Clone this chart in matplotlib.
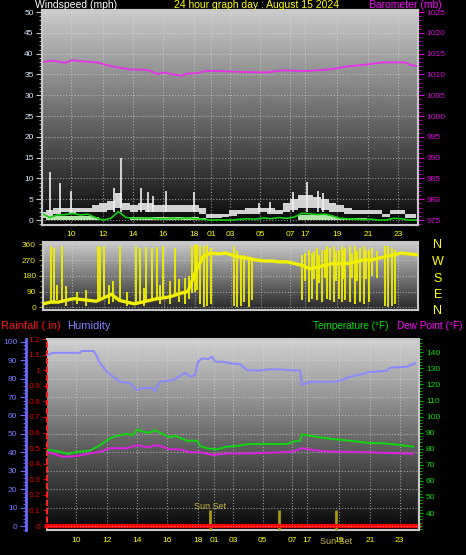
import matplotlib
matplotlib.use('Agg')
import matplotlib.pyplot as plt
import numpy as np
from matplotlib.ticker import MultipleLocator, FuncFormatter

plt.rcParams['font.family'] = ['Liberation Sans', 'DejaVu Sans']

# x axis: hours since start of the record (the graph skips some hours)
tick_pos = [1.9, 3.97, 5.98, 7.94, 9.97, 11.06, 12.3, 14.27, 16.23, 17.2, 19.28, 21.35, 23.32]
tick_labels = ['10', '12', '14', '16', '18', '01', '03', '05', '07', '17', '19', '21', '23']

# wind, half-hour steps
wind_hours = np.arange(50) * 0.5
gust_hi = [2, 2.5, 3, 3, 3, 3, 3, 3.5, 4, 4.5, 6.5, 4, 3.5, 4, 4, 3.5, 3.5, 3.5, 3.5, 3.5,
           3.5, 3, 1.5, 1.5, 1.5, 2.5, 2.5, 3, 3, 3, 3, 2.5, 4, 5, 6, 6, 5.5, 5, 4, 3.5,
           3, 2.5, 2.5, 2.5, 2.5, 1.5, 2.5, 2.5, 1.5, 1.5]
gust_lo = [0.5, 0.5, 1.5, 2, 1.5, 2, 2, 2, 2, 2.5, 3, 2.5, 2, 2.5, 2, 2, 2, 2, 2, 2,
           2, 1.5, 0.5, 0.5, 0.8, 1, 1.5, 1.5, 1.5, 2, 1.5, 1.5, 2, 2.5, 3, 3, 3, 2.5, 2, 2,
           1.5, 1.5, 1.5, 1.5, 1.5, 0.8, 1.5, 1.5, 0.5, 0.5]
wind_avg = [1.6, 0.6, 1.2, 1.3, 1.6, 1.2, 1.4, 0.6, 0.0, 0.4, 2.0, 0.6, 0.4, 0.4, 0.5, 0.3, 0.3, 0.4, 0.3, 0.5,
            0.3, 0.2, 0.0, 0.0, 0.0, 0.0, 0.2, 0.3, 0.2, 0.5, 0.3, 0.6, 0.4, 0.7, 1.6, 1.5, 1.3, 1.4, 1.0, 0.4,
            0.3, 0.2, 0.1, 0.2, 0.0, 0.0, 0.4, 0.3, 0.0, 0.0]
wind_low = [0, 1, 1, 1, 1, 1, 1, 0.8, 0, 0, 0, 0, 0.8, 0.8, 0.8, 0.8, 0.8, 0.8, 0.8, 0.8,
            0.8, 0.5, 0, 0, 0, 0, 0, 0, 0, 0, 0, 0, 0, 0, 1.2, 1.2, 1.2, 1.2, 1.0, 0.6,
            0.6, 0.6, 0.6, 0.3, 0, 0, 0, 0, 0, 0]
spike_hours = [0.52, 1.18, 1.9, 4.71, 5.17, 6.48, 6.94, 7.26, 8.12, 9.95, 14.2, 14.92, 16.43, 17.34, 18.06, 18.39]
spike_mph = [11.5, 9, 7, 7.8, 15, 7.8, 6.8, 5.7, 6.9, 6.8, 4.2, 4.4, 6.8, 9.1, 7, 6.5]

baro_hours = [0.07, 0.72, 1.51, 1.96, 2.49, 3.6, 3.99, 4.65, 5.76, 6.87, 7.59, 8.05, 8.38, 9.16, 9.49, 10.14,
              10.8, 11.65, 12.96, 14.73, 15.77, 16.88, 17.54, 18.39, 19.04, 19.7, 21.27, 22.32, 23.76, 24.08, 24.54]
baro = [1013.0, 1013.3, 1012.8, 1013.4, 1013.2, 1012.9, 1012.5, 1011.9, 1011.2, 1011.1, 1010.1, 1010.5, 1010.1,
        1009.7, 1010.2, 1010.3, 1010.9, 1010.8, 1010.6, 1010.5, 1011.0, 1010.8, 1010.9, 1011.1, 1011.3, 1011.8,
        1012.4, 1012.9, 1012.9, 1012.3, 1012.0]

# wind direction
dir_base = [20, 30, 30, 40, 50, 45, 40, 35, 55, 75, 40, 30, 20, 30, 40, 50, 55, 65, 80, 90,
            200, 290, 310, 305, 310, 295, 285, 280, 270, 265, 265, 260, 260, 250, 240, 220, 230, 240, 250, 250,
            250, 260, 270, 270, 280, 290, 300, 310, 305, 300]
dir_spike_h = [0.52, 0.7, 0.9, 1.22, 3.58, 3.75, 3.97, 5.04, 6.09, 6.37, 6.74, 7.13, 7.5, 7.9, 8.66, 9.8, 9.95,
               10.12, 10.3, 10.56, 10.78, 11.0, 12.52, 12.74, 12.96, 13.17, 13.5, 13.72,
               17.0, 17.43, 17.65, 17.98, 18.3, 18.63, 18.85, 19.07, 19.39, 19.61, 19.83, 20.16, 20.48, 20.81,
               21.03, 21.36, 22.45, 22.66, 22.88, 23.1,
               1.5, 2.2, 2.8, 4.3, 4.6, 5.5, 6.6, 7.7, 8.3, 8.9, 9.3, 9.6,
               17.2, 17.8, 18.1, 18.5, 19.2, 19.7, 20.3, 20.6, 21.2, 21.6, 21.9]
dir_spike_lo = [30, 30, 40, 30, 40, 40, 50, 40, 20, 30, 30, 40, 50, 55, 65, 80, 90,
                100, 20, 0, 10, 20, 10, 0, 5, 30, 0, 40,
                40, 30, 50, 40, 30, 50, 40, 30, 50, 30, 40, 30, 20, 30,
                20, 30, 10, 0, 10, 20,
                10, 20, 10, 20, 30, 10, 10, 20, 20, 30, 20, 50,
                150, 160, 140, 170, 150, 160, 170, 150, 160, 180, 170]
dir_spike_hi = [350, 340, 130, 350, 350, 345, 350, 350, 350, 340, 345, 340, 345, 350, 340, 350, 355,
                360, 350, 350, 355, 340, 350, 320, 300, 300, 290, 280,
                300, 330, 310, 340, 330, 350, 340, 350, 330, 350, 340, 350, 350, 340,
                350, 330, 350, 350, 340, 330,
                120, 90, 100, 130, 150, 90, 110, 130, 150, 160, 170, 180,
                310, 320, 300, 330, 320, 330, 310, 320, 330, 340, 320]

# bottom panel
hum_hours = [0.0, 0.4, 2.18, 2.31, 3.04, 3.17, 3.51, 3.97, 4.37, 4.83, 5.49, 5.95, 6.35, 6.94, 7.14, 7.47,
             7.94, 8.33, 8.8, 9.13, 9.46, 9.79, 9.99, 10.25, 10.65, 10.91, 11.11, 11.64, 12.1, 12.76, 13.23,
             14.09, 14.55, 15.41, 16.07, 16.73, 16.87, 17.39, 18.92, 19.38, 20.04, 20.9, 21.16, 22.49, 22.69,
             23.81, 24.34]
humidity = [92.7, 94, 94, 95, 95, 94, 88.4, 83.7, 81, 78.3, 77.6, 73.8, 74.9, 74.9, 73.2, 78.3,
            78.8, 79.2, 81.4, 83.2, 81, 82, 89.2, 91, 90.6, 91.9, 89.2, 89.2, 88.3, 87.9, 84.6,
            84.3, 85, 85, 84.6, 84.3, 76.5, 78.3, 78.3, 78.8, 81, 82.5, 83.4, 84.3, 85.9,
            86.4, 88.3]
temp_hours = [0.07, 0.66, 1.39, 1.98, 2.84, 3.51, 4.17, 4.63, 5.29, 5.69, 5.95, 6.35, 6.81, 7.14, 7.67, 8.13,
              8.47, 9.26, 9.92, 10.12, 10.58, 11.24, 11.9, 12.57, 13.29, 14.55, 15.87, 16.27, 16.73, 16.87,
              17.39, 18.06, 18.92, 20.04, 21.16, 22.22, 22.88, 24.21]
temperature = [79.2, 78.6, 76.7, 78, 78.8, 82.3, 86.5, 88.1, 89.2, 88.5, 92, 90.6, 90, 91.6, 89, 87.1,
               88.1, 85, 85, 81.7, 80.3, 79.6, 81.3, 81.7, 82.9, 82.9, 82.9, 84.4, 85, 89,
               88.1, 87.1, 86, 85, 83.7, 83.4, 82.8, 81.3]
dew_hours = [0.07, 1.06, 1.98, 2.84, 3.51, 4.17, 5.29, 5.95, 6.61, 7.28, 8.13, 8.8, 9.46, 10.12, 10.98, 11.9,
             13.43, 15.61, 16.27, 16.87, 17.59, 18.52, 21.16, 24.21]
dew_point = [77.8, 75, 75.5, 77.1, 78.1, 80.3, 80.3, 82.3, 80.9, 82.3, 79.6, 79.6, 77.8, 77.8, 76.1, 77.1,
             77.1, 77.8, 78.3, 80.3, 79.2, 78.3, 77.8, 76.9]
rain_hours = [0.0, 24.6]
rainfall = [0.0, 0.0]
sun_hours = [10.78, 15.34, 19.11]

W, H = 466, 555
fig = plt.figure(figsize=(W / 100, H / 100), dpi=100, facecolor='black')


def box(left, top, width, height):
    return [left / W, 1 - (top + height) / H, width / W, height / H]


def gradient(ax, top, bottom):
    img = np.linspace(top, bottom, 256).reshape(-1, 1)
    ax.imshow(img, cmap='gray', vmin=0, vmax=1, extent=[0, 1, 0, 1], transform=ax.transAxes,
              aspect='auto', zorder=0, interpolation='bilinear')


def frame(ax):
    for s in ax.spines.values():
        s.set_color('#c8c8c8')
        s.set_linewidth(1.5)


grid_kw = dict(color='#e0e0e0', ls=':', lw=0.8, alpha=0.6)

# ---- wind speed / barometer
ax1 = fig.add_axes(box(42, 10, 376, 215))
ax1.set_facecolor('black')
gradient(ax1, 0.80, 0.03)
ax1.fill_between(wind_hours, 0, wind_low, step='mid', color='#b4e4ac', lw=0, zorder=2)
ax1.fill_between(wind_hours, gust_lo, gust_hi, step='mid', color='#e8e8e8', alpha=0.9, lw=0, zorder=3)
ax1.vlines(spike_hours, 2, spike_mph, color='#eeeeee', lw=1.2, zorder=3)
ax1.plot(wind_hours, wind_avg, color='#10d010', lw=1.2, zorder=4)
ax1.set_xlim(0, 24.6)
ax1.set_ylim(-1.2, 50.5)
ax1.set_yticks(range(0, 51, 5))
ax1.yaxis.set_minor_locator(MultipleLocator(1))
ax1.tick_params(axis='y', which='major', colors='#c8c8c8', labelcolor='#d8ecff', labelsize=6, length=4, pad=2)
ax1.tick_params(axis='y', which='minor', colors='#c8c8c8', length=2)
ax1.set_xticks(tick_pos)
ax1.set_xticklabels(tick_labels)
ax1.tick_params(axis='x', length=0, labelcolor='#ffff00', labelsize=6, pad=4)
ax1.grid(True, **grid_kw)
frame(ax1)

ax1b = ax1.twinx()
ax1b.plot(baro_hours, baro, color='#e830e8', lw=1.3)
ax1b.set_ylim(973.8, 1025.5)
ax1b.set_yticks(range(975, 1026, 5))
ax1b.yaxis.set_minor_locator(MultipleLocator(1))
ax1b.tick_params(axis='y', which='major', colors='#e000e0', labelsize=6, length=4, pad=2)
ax1b.tick_params(axis='y', which='minor', colors='#e000e0', length=2)
frame(ax1b)

# ---- wind direction
ax2 = fig.add_axes(box(43, 242, 375, 68))
ax2.set_facecolor('black')
gradient(ax2, 0.80, 0.15)
ax2.plot(wind_hours, dir_base, color='#f0f000', lw=2.4, zorder=3)
ax2.vlines(dir_spike_h, dir_spike_lo, dir_spike_hi, color='#f0f000', lw=1.3, zorder=3)
ax2.set_xlim(0, 24.6)
ax2.set_ylim(-15, 373)
ax2.set_yticks([0, 90, 180, 270, 360])
ax2.yaxis.set_minor_locator(MultipleLocator(30))
ax2.tick_params(axis='y', which='major', colors='#a0a000', labelcolor='#e8e800', labelsize=6, length=3, pad=2)
ax2.tick_params(axis='y', which='minor', colors='#a0a000', length=2)
ax2.set_xticks(tick_pos)
ax2.tick_params(axis='x', length=0, labelbottom=False)
ax2.grid(True, **grid_kw)
frame(ax2)
for lab, py in zip(['N', 'W', 'S', 'E', 'N'], [245, 262, 279, 295.5, 311]):
    fig.text(438 / W, 1 - py / H, lab, color='#ffff00', fontsize=9, ha='center', va='center')

# ---- rain / humidity / temperature
ax3 = fig.add_axes(box(47, 339, 372, 191))
ax3.set_facecolor('black')
gradient(ax3, 0.82, 0.03)
ax3.set_xlim(0, 24.6)
ax3.set_ylim(-0.0256, 1.196)
ax3.set_yticks(np.arange(0, 1.21, 0.1))
ax3.yaxis.set_major_formatter(FuncFormatter(lambda v, p: f'{v:g}'))
ax3.tick_params(axis='y', colors='#e00000', labelsize=6, length=3, pad=2)
ax3.set_xticks(tick_pos)
ax3.set_xticklabels(tick_labels)
ax3.tick_params(axis='x', length=0, labelcolor='#ffff00', labelsize=6, pad=5)
ax3.grid(True, axis='x', **grid_kw)
frame(ax3)
ax3.spines['left'].set_color('#ff2020')
ax3.spines['left'].set_linestyle((0, (2, 2)))
ax3.plot(rain_hours, rainfall, color='#ff0000', lw=3, zorder=5, clip_on=False)
ax3.vlines(sun_hours, -0.03, 0.1, color='#a89810', lw=2, zorder=4)
ax3.text(sun_hours[0], 0.125, 'Sun Set', color='#c8b440', fontsize=6.5, ha='center', va='center')
ax3.text(sun_hours[2], -0.058, 'Sun Set', color='#c8b440', fontsize=6.5, ha='center', va='center',
         transform=ax3.get_xaxis_transform())

ax_h = ax3.twinx()
ax_h.plot(hum_hours, humidity, color='#8888ff', lw=1.4)
ax_h.set_ylim(-2.17, 101.5)
ax_h.yaxis.tick_left()
ax_h.yaxis.set_label_position('left')
ax_h.spines['left'].set_visible(True)
ax_h.spines['left'].set_position(('outward', 15.3))
ax_h.spines['left'].set_color('#6a6aff')
ax_h.spines['left'].set_linewidth(2)
ax_h.spines['right'].set_visible(False)
ax_h.spines['top'].set_visible(False)
ax_h.spines['bottom'].set_visible(False)
ax_h.set_yticks(range(0, 101, 10))
ax_h.yaxis.set_minor_locator(MultipleLocator(2))
ax_h.tick_params(axis='y', which='major', colors='#6a6aff', labelcolor='#7878ff', labelsize=6, length=4, pad=2)
ax_h.tick_params(axis='y', which='minor', colors='#6a6aff', length=2)
ax_h.grid(True, axis='y', **grid_kw)

ax_t = ax3.twinx()
ax_t.plot(temp_hours, temperature, color='#10d810', lw=1.4)
ax_t.plot(dew_hours, dew_point, color='#e020e0', lw=1.4)
ax_t.set_ylim(29.42, 148.3)
ax_t.set_yticks(range(40, 141, 10))
ax_t.yaxis.set_minor_locator(MultipleLocator(2))
ax_t.tick_params(axis='y', which='major', colors='#00c000', labelcolor='#00e000', labelsize=6, length=3, pad=2)
ax_t.tick_params(axis='y', which='minor', colors='#00c000', length=2)
for s in ['left', 'top', 'bottom']:
    ax_t.spines[s].set_visible(False)
ax_t.spines['right'].set_color('#c8c8c8')
ax_t.spines['right'].set_linewidth(1.5)

# ---- header texts
ty = 1 - 5 / H
fig.text(35 / W, ty, 'Windspeed (mph)', color='white', fontsize=7.5, ha='left', va='center')
fig.text(256 / W, ty, '24 hour graph day : August 15 2024', color='#ffff00', fontsize=7.5, ha='center', va='center')
fig.text(442 / W, ty, 'Barometer (mb)', color='#ff00ff', fontsize=7.5, ha='right', va='center')

ly = 1 - 326 / H
fig.text(1 / W, ly, 'Rainfall (.in)', color='#ff1010', fontsize=8, ha='left', va='center')
fig.text(67 / W, ly, 'Humidity', color='#8080ff', fontsize=8, ha='left', va='center')
fig.text(313 / W, ly, 'Temperature (°F)', color='#00e000', fontsize=7.2, ha='left', va='center')
fig.text(462 / W, ly, 'Dew Point (°F)', color='#ff00ff', fontsize=7.2, ha='right', va='center')

fig.savefig('out.png', dpi=100, facecolor='black')
